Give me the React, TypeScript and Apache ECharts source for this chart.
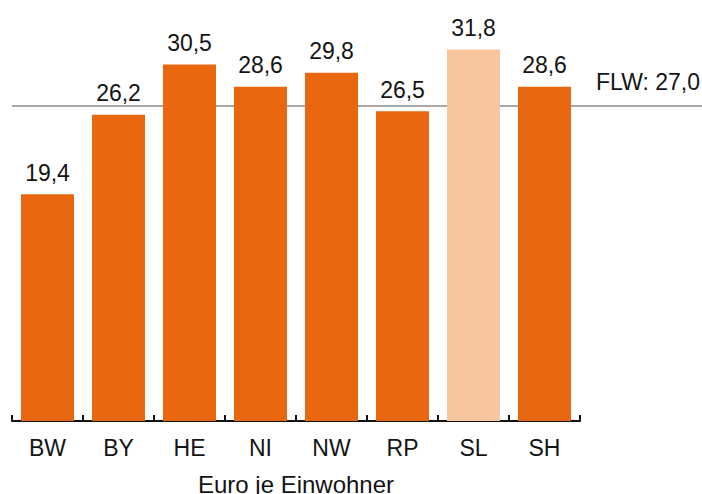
import React, { useEffect, useRef } from "react";
import * as echarts from "echarts";

const categories = ["BW", "BY", "HE", "NI", "NW", "RP", "SL", "SH"];
const values = [19.4, 26.2, 30.5, 28.6, 29.8, 26.5, 31.8, 28.6];
const highlighted = ["SL"];
const referenceValue = 27.0;
const referenceLabel = "FLW";
const axisTitle = "Euro je Einwohner";

const fmt = (v: number) => v.toFixed(1).replace(".", ",");

const FONT = '"Liberation Sans", Arial, Helvetica, sans-serif';
const ORANGE = "#E8670F";
const LIGHT = "#F7C69E";
const TEXT = "#141414";

export default function App() {
  const ref = useRef<HTMLDivElement>(null);
  useEffect(() => {
    if (!ref.current) return;
    const chart = echarts.init(ref.current, null, { renderer: "svg" });
    chart.setOption({
      animation: false,
      backgroundColor: "#ffffff",
      textStyle: { fontFamily: FONT },
      grid: {
        left: 12,
        right: 122,
        top: 12,
        bottom: 73,
        containLabel: false,
        outerBoundsMode: "none",
      },
      xAxis: {
        type: "category",
        data: categories,
        boundaryGap: true,
        axisLine: { show: true, lineStyle: { color: "#111", width: 2 } },
        axisTick: { show: true, inside: true, length: 6, lineStyle: { color: "#111", width: 2 } },
        axisLabel: { color: TEXT, fontSize: 23, fontFamily: FONT, margin: 15 },
        name: axisTitle,
        nameLocation: "middle",
        nameGap: 51,
        nameTextStyle: { color: TEXT, fontSize: 24, fontFamily: FONT },
      },
      yAxis: {
        type: "value",
        min: 0,
        max: 35,
        show: false,
        splitLine: { show: false },
      },
      series: [
        {
          type: "bar",
          barWidth: 53,
          data: values.map((v, i) => ({
            value: v,
            itemStyle: { color: highlighted.includes(categories[i]) ? LIGHT : ORANGE },
          })),
          label: {
            show: true,
            position: "top",
            distance: 10,
            color: TEXT,
            fontSize: 23,
            fontFamily: FONT,
            formatter: (p: any) => fmt(p.value),
          },
          z: 2,
          markLine: {
            silent: true,
            symbol: ["none", "none"],
            lineStyle: { color: "#A8A8A8", width: 2, type: "solid" },
            label: {
              show: true,
              position: "insideEndTop",
              distance: [2, 12],
              formatter: `${referenceLabel}: ${fmt(referenceValue)}`,
              color: TEXT,
              fontSize: 23,
              fontFamily: FONT,
            },
            data: [
              [
                { coord: [categories[0], referenceValue], x: 12 },
                { coord: [categories[categories.length - 1], referenceValue], x: 702 },
              ],
            ],
            z: 1,
          },
        },
      ],
    });
    return () => chart.dispose();
  }, []);
  return (
    <div
      ref={ref}
      style={{ position: "fixed", left: 0, top: 0, width: 702, height: 494 }}
    />
  );
}
